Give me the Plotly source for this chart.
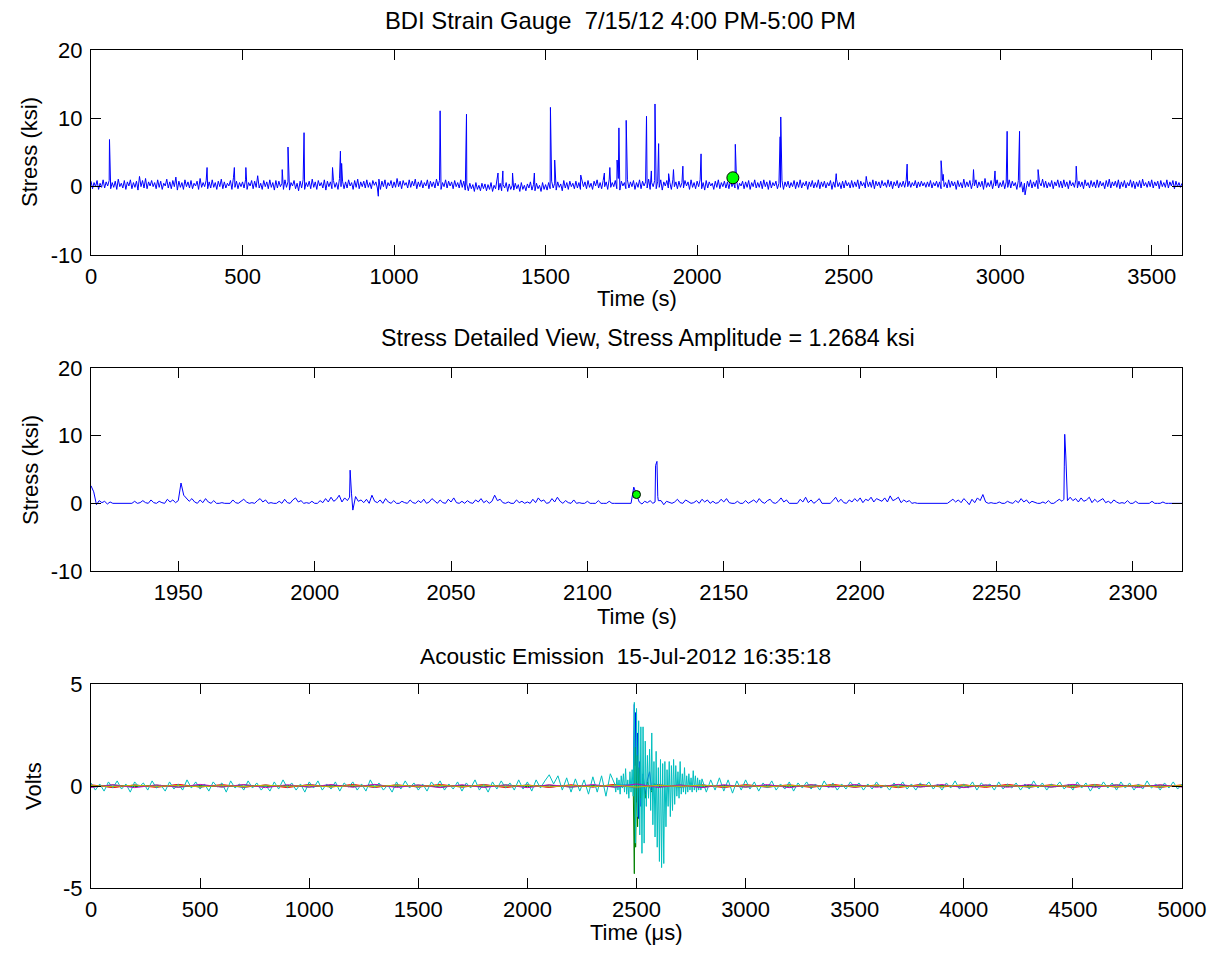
import numpy as np
import plotly.graph_objects as go

# ---------------- Panel 1: BDI strain gauge, 1 hour ----------------
TOP_STEP = 5  # seconds between baseline samples
TOP_BASE = [
    0.8, -0.3, 0.6, 0.0, 0.9, -0.4, 0.5, -0.1, 1.0, -0.2, 0.7, 0.1, 0.9, -0.3, 0.6, -0.1, 0.8, -0.4, 1.1, 0.0,
    0.5, -0.2, 0.9, -0.4, 0.7, 0.1, 1.0, -0.3, 0.6, -0.1, 0.8, -0.5, 1.5, 0.0, 0.9, -0.2, 1.2, -0.3, 0.7, 0.1,
    0.9, 0.0, 0.6, -0.3, 1.0, -0.1, 0.8, -0.4, 0.5, 0.1, 1.1, -0.2, 0.7, -0.3, 0.9, 0.0, 1.4, -0.5, 0.8, -0.1,
    0.6, -0.4, 1.0, 0.0, 0.7, -0.2, 0.9, -0.3, 0.5, 0.1, 0.8, -0.4, 1.2, -0.1, 0.6, 0.0, 0.9, -0.3, 0.7, -0.2,
    1.0, -0.1, 0.6, -0.4, 0.8, 0.0, 1.1, -0.3, 0.7, -0.2, 0.5, 0.1, 0.9, -0.4, 1.3, -0.1, 0.8, -0.3, 0.6, 0.0,
    0.7, -0.2, 1.0, -0.4, 0.6, 0.1, 0.9, -0.3, 0.8, -0.1, 1.6, -0.2, 0.5, -0.4, 0.9, 0.0, 0.7, -0.3, 1.0, -0.1,
    0.6, -0.5, 0.9, -0.2, 0.8, 0.0, 0.5, -0.4, 1.0, -0.1, 0.7, -0.5, 0.6, 0.1, 0.9, -0.3, 0.5, -0.6, 0.8, -0.2,
    1.0, -0.4, 0.6, 0.0, 0.8, -0.3, 1.1, -0.1, 0.7, -0.4, 0.9, 0.1, 0.6, -0.2, 1.0, -0.5, 0.8, 0.0, 0.7, -0.3,
    0.9, -0.1, 0.6, -0.4, 1.2, 0.0, 0.8, -0.3, 0.7, -0.2, 1.0, 0.1, 0.6, -0.4, 0.9, -0.1, 1.1, -0.3, 0.7, 0.0,
    0.8, -0.2, 1.0, -0.1, 0.6, -0.3, 0.9, 0.2, 0.7, -0.2, 1.1, -0.4, 0.8, 0.0, 1.0, -0.3, 0.6, 0.1, 0.9, -0.2,
    0.7, -0.1, 1.2, 0.0, 0.8, -0.3, 0.9, 0.2, 0.6, -0.2, 1.0, -0.1, 0.8, 0.1, 1.1, -0.3, 0.7, 0.0, 0.9, -0.2,
    0.6, 0.1, 1.0, -0.3, 0.8, 0.0, 0.7, -0.2, 1.1, 0.1, 0.9, -0.4, 0.6, 0.0, 1.0, -0.2, 0.8, 0.1, 0.7, -0.3,
    0.9, 0.0, 0.6, -0.2, 1.0, -0.1, 0.8, -0.5, 0.4, -0.6, 0.5, -0.3, 0.3, -0.7, 0.6, -0.4, 0.2, -0.6, 0.5, -0.3,
    0.4, -0.6, 0.3, -0.4, 0.6, -0.7, 0.2, -0.3, 1.7, -0.5, 0.5, -0.6, 0.3, -0.2, 0.6, -0.7, 0.4, -0.4, 0.2, -0.5,
    0.5, -0.3, 0.3, -0.7, 0.6, -0.4, 0.2, -0.6, 0.4, -0.2, 0.7, -0.5, 0.3, -0.6, 0.5, -0.3, 0.2, -0.7, 0.6, -0.4,
    0.3, -0.5, 0.6, -0.3, 0.8, -0.2, 0.5, -0.5, 0.7, -0.1, 0.4, -0.6, 0.9, -0.2, 0.6, -0.4, 0.8, 0.0, 0.5, -0.3,
    0.8, -0.2, 0.6, -0.4, 1.0, 0.0, 0.7, -0.3, 0.9, -0.1, 0.5, -0.4, 0.8, 0.1, 1.0, -0.2, 0.6, -0.3, 0.9, 0.0,
    0.7, -0.4, 1.1, -0.1, 0.6, 0.0, 0.9, -0.3, 1.2, -0.5, 0.8, 0.1, 0.6, -0.3, 1.0, -0.2, 0.7, 0.0, 0.9, -0.4,
    0.6, -0.1, 1.0, -0.3, 0.8, 0.1, 0.7, -0.2, 1.1, -0.4, 0.6, 0.0, 0.9, -0.3, 0.8, -0.1, 1.0, -0.5, 0.7, 0.1,
    0.9, -0.2, 0.6, -0.4, 1.0, 0.0, 0.7, -0.3, 0.8, -0.1, 0.6, -0.2, 0.9, 0.1, 0.7, -0.4, 1.0, -0.1, 0.6, -0.3,
    0.8, 0.0, 1.0, -0.3, 0.6, -0.5, 0.9, -0.2, 0.7, 0.1, 0.5, -0.4, 0.8, -0.1, 1.0, -0.3, 0.6, 0.0, 0.8, -0.2,
    0.7, -0.3, 0.9, 0.0, 0.6, -0.2, 1.0, -0.4, 0.5, 0.1, 0.8, -0.3, 0.7, -0.1, 0.9, -0.4, 0.6, 0.0, 1.0, -0.2,
    0.6, -0.1, 0.8, -0.3, 1.0, 0.0, 0.7, -0.4, 0.9, -0.2, 0.6, 0.1, 0.8, -0.3, 0.5, -0.1, 0.9, -0.4, 0.7, 0.0,
    0.8, -0.2, 0.6, 0.0, 0.9, -0.3, 0.7, -0.1, 1.0, -0.2, 0.6, 0.1, 0.8, -0.4, 0.7, 0.0, 0.9, -0.2, 0.6, -0.1,
    1.0, -0.3, 0.7, 0.0, 0.8, -0.2, 0.6, 0.1, 0.9, -0.4, 0.7, -0.1, 1.1, 0.0, 0.6, -0.3, 0.8, -0.2, 0.9, 0.1,
    0.6, -0.2, 0.9, -0.1, 0.7, 0.0, 1.0, -0.3, 0.8, 0.1, 0.6, -0.2, 0.9, 0.0, 0.7, -0.1, 1.0, -0.3, 0.8, 0.1,
    0.7, -0.2, 0.9, 0.1, 0.6, -0.1, 1.0, 0.0, 0.8, -0.3, 0.7, 0.1, 0.9, -0.2, 0.6, 0.0, 0.8, -0.1, 1.0, 0.0,
    0.8, -0.1, 0.6, 0.1, 0.9, -0.2, 0.7, 0.0, 0.8, 0.1, 0.6, -0.1, 0.7, 0.0, 0.9, -0.2, 0.6, 0.1, 0.8, -0.1,
    0.7, -0.3, 0.9, 0.0, 0.6, -0.2, 1.0, -0.1, 0.8, 0.1, 0.7, -0.4, 0.9, 0.0, 0.6, -0.2, 1.1, -0.1, 0.7, 0.0,
    0.9, -0.3, 0.6, 0.1, 1.0, -0.2, 0.7, 0.0, 0.8, -0.4, 1.2, -0.1, 0.6, 0.0, 0.9, -0.3, 0.7, 0.1, 1.0, -0.2,
    0.6, 0.0, 0.9, -0.3, 0.7, -0.1, 1.0, -0.2, 0.8, 0.1, 0.6, -0.4, 0.9, -0.1, 0.7, -0.8, 0.5, -0.2, 0.8, 0.0,
    1.0, -0.2, 0.7, 0.0, 0.9, -0.3, 0.6, 0.1, 1.1, -0.1, 0.8, -0.2, 0.6, 0.0, 0.9, -0.3, 0.7, 0.1, 1.0, -0.1,
    0.8, -0.2, 1.0, 0.0, 0.7, -0.3, 0.9, 0.1, 0.6, -0.1, 1.1, -0.2, 0.8, 0.0, 0.7, -0.3, 1.0, 0.1, 0.6, -0.2,
    0.9, 0.0, 0.7, -0.2, 1.0, -0.1, 0.8, 0.1, 0.6, -0.3, 0.9, 0.0, 1.1, -0.2, 0.7, 0.1, 0.8, -0.1, 1.0, -0.3,
    0.7, 0.0, 0.9, -0.2, 0.6, 0.1, 1.0, -0.1, 0.8, -0.3, 0.7, 0.0, 0.9, -0.2, 1.1, 0.1, 0.6, -0.1, 0.8, 0.0,
    1.0, -0.2, 0.7, 0.1, 0.8, -0.3, 0.9, 0.0, 0.6, -0.1, 1.0, -0.2, 0.7, 0.1, 0.9, -0.3, 0.8, 0.0, 0.6, -0.1,
    0.5,
]
TOP_SPIKE_T = [61, 383, 473, 511, 631, 650, 703, 797, 823, 827, 948,
               1152, 1239, 1343, 1359, 1391, 1463, 1516, 1530, 1616,
               1694, 1712, 1736, 1742, 1766, 1833, 1849, 1861, 1873,
               1906, 1922, 1953, 2013, 2126, 2274, 2276, 2459, 2558,
               2693, 2805, 2812, 2912, 2983, 3023, 3064, 3082, 3125, 3251]
TOP_SPIKE_V = [6.9, 2.8, 2.8, 2.8, 2.5, 5.8, 7.9, 2.8, 5.2, 3.4, -1.4,
               11.1, 10.6, 2.0, 2.3, 2.0, 2.0, 11.6, 3.9, 1.7,
               2.0, 2.8, 3.9, 8.6, 9.7, 10.3, 2.3, 12.1, 6.3,
               1.9, 2.5, 3.0, 4.8, 6.2, 7.3, 10.2, 1.9, 1.5,
               3.3, 3.8, 1.8, 2.5, 2.3, 8.1, 8.1, -1.2, 2.5, 3.0]
EVENT_T = 2118
EVENT_V = 1.3

# ---------------- Panel 2: detailed view (1 s samples + sub-second peak samples) ----------------
MID_START = 1918
MID_STEP = 1
MID_BASE = [
    2.6, 1.7, -0.2, 0.4, 0.1, 0.3, -0.1, 0.2, 0.0, 0.0, 0.1, 0.0, 0.0, 0.1, 0.0, 0.0, 0.3, 0.0, 0.1, 0.4,
    0.1, 0.0, 0.5, 0.1, 0.0, 0.3, 0.1, 0.0, 0.6, 0.2, 0.5, 0.1, 0.4, 3.0, 1.2, 0.8, 0.3, 0.7, 0.2, 0.0,
    0.5, 0.1, 0.7, 0.2, 0.0, 0.4, 0.0, 0.0, 0.1, 0.0, 0.0, 0.0, 0.5, 0.1, 0.0, 0.3, 0.6, 0.2, 0.0, 0.1,
    0.0, 0.4, 0.7, 0.2, 0.5, 0.0, 0.1, 0.0, 0.0, 0.3, 0.0, 0.6, 0.1, 0.0, 0.5, 0.8, 0.2, 0.4, 0.0, 0.1,
    0.0, 0.3, 0.0, 0.0, 0.4, 0.1, 0.7, 0.2, 0.9, 0.3, 0.6, 1.2, 0.2, 0.8, 0.4, 4.9, -1.0, 1.0, 0.3, 0.5,
    0.1, 0.6, 0.0, 1.2, 0.3, 0.1, 0.5, 0.0, 0.7, 0.2, 0.0, 0.4, 0.0, 0.0, 0.3, 0.1, 0.0, 0.5, 0.1, 0.0,
    0.4, 0.1, 0.6, 0.0, 0.2, 0.7, 0.3, 0.0, 0.5, 0.1, 0.0, 0.6, 0.2, 0.8, 0.1, 0.0, 0.3, 0.0, 0.4, 0.1,
    0.0, 0.5, 0.2, 0.7, 0.1, 0.4, 0.0, 0.3, 1.2, 0.4, 0.6, 0.1, 0.0, 0.2, 0.0, 0.0, 0.5, 0.1, 0.3, 0.0,
    0.2, 0.0, 0.6, 0.1, 0.8, 0.3, 0.5, 0.0, 0.1, 0.7, 0.2, 0.9, 0.3, 0.0, 0.4, 0.1, 0.0, 0.5, 0.0, 0.1,
    0.0, 0.0, 0.3, 0.0, 0.0, 0.0, 0.4, 0.0, 0.0, 0.0, 0.3, 0.0, 0.0, 0.0, 0.0, 0.0, 0.0, 0.0, 0.0, 2.4,
    1.3, 0.2, -0.1, 0.3, 0.1, 0.4, 0.0, 5.6, 0.4, 0.4, -0.2, 0.3, 0.1, 0.0, 0.2, 0.6, 0.1, 0.0, 0.5, 0.2,
    0.0, 0.1, 0.4, 0.0, 0.6, 0.2, 0.5, 0.0, 0.3, 0.0, 0.1, 0.6, 0.2, 0.7, 0.1, 0.0, 0.0, 0.3, 0.0, 0.0,
    0.4, 0.0, 0.2, 0.5, 0.1, 0.7, 0.2, 0.0, 0.4, 0.6, 0.1, 0.0, 0.3, 0.8, 0.2, 0.5, 0.0, 0.0, 0.1, 0.0,
    0.6, 0.2, 0.9, 0.1, 0.5, 0.0, 0.3, 0.7, 0.0, 0.0, 0.1, 0.0, 0.4, 0.9, 0.2, 0.6, 0.1, 0.0, 0.5, 0.2,
    0.7, 0.3, 0.8, 0.1, 0.6, 0.4, 0.9, 0.2, 0.7, 0.5, 0.3, 0.8, 0.2, 1.1, 0.4, 0.6, 0.9, 0.1, 0.5, 0.2,
    0.4, 0.0, 0.1, 0.0, 0.0, 0.0, 0.0, 0.0, 0.0, 0.0, 0.0, 0.0, 0.0, 0.0, 0.0, 0.3, 0.6, 0.2, 0.5, 0.1,
    0.7, 0.3, -0.2, 0.6, 0.1, 0.8, 0.4, 1.3, 0.2, 0.0, 0.1, 0.0, 0.0, 0.2, 0.0, 0.0, 0.3, 0.1, 0.0, 0.4,
    0.1, 0.7, 0.2, 0.5, 0.0, 0.3, 0.1, 0.0, 0.0, 0.2, 0.0, 0.4, 0.0, 0.0, 0.3, 0.6, 0.3, 10.2, 0.4, 0.9,
    0.4, 0.7, 0.2, 0.8, 0.3, 0.5, 0.9, 0.1, 0.6, 0.2, 0.4, 0.7, 0.1, 0.3, 0.0, 0.5, 0.2, 0.0, 0.1, 0.0,
    0.4, 0.0, 0.0, 0.3, 0.0, 0.0, 0.1, 0.0, 0.0, 0.3, 0.0, 0.0, 0.0, 0.2, 0.0, 0.0, 0.0, 0.0, 0.1, 0.0,
    0.0,
]
MID_PEAK_T = [2012.8, 2013.5, 2124.8, 2125.5, 2125.8, 2274.7, 2274.85, 2275.4, 2275.8]
MID_PEAK_V = [0.9, 1.5, 0.2, 6.2, 1.0, 0.6, 5.5, 7.0, 1.3]

# ---------------- Panel 3: acoustic emission ----------------
AE_STEP = 20
AE_CYAN_PRE = [  # t = 0 .. 2380 us
    0.15, -0.2, 0.1, -0.25, 0.2, -0.1, 0.25, -0.15, 0.1, -0.3, 0.2, -0.05,
    0.15, -0.2, 0.25, -0.1, 0.05, -0.25, 0.2, -0.15, 0.1, -0.2, 0.3, -0.1,
    0.2, -0.15, 0.1, -0.25, 0.2, -0.05, 0.15, -0.3, 0.25, -0.1, 0.1, -0.2,
    0.25, -0.1, 0.15, -0.2, 0.05, -0.25, 0.2, -0.15, 0.3, -0.1, 0.15, -0.2,
    0.1, -0.3, 0.2, -0.1, 0.25, -0.2, 0.1, -0.15, 0.2, -0.25, 0.15, -0.05,
    0.2, -0.2, 0.1, -0.25, 0.3, -0.1, 0.15, -0.2, 0.05, -0.3, 0.2, -0.15,
    0.25, -0.1, 0.15, -0.2, 0.1, -0.25, 0.2, -0.05, 0.25, -0.2, 0.1, -0.15,
    0.2, -0.25, 0.15, -0.1, 0.3, -0.2, 0.1, -0.3, 0.2, -0.15, 0.25, -0.1,
    0.15, -0.2, 0.3, -0.15, 0.2, -0.25, 0.3, -0.1, 0.25, 0.55, 0.1, 0.5,
    -0.2, 0.4, -0.3, 0.35, -0.25, 0.3, -0.4, 0.45, -0.3, 0.5, -0.5, 0.6,
]
AE_BURST_START = 2400
AE_BURST_STEP = 5
AE_CYAN_BURST = [  # t = 2400 .. 2795 us
    0.1, -0.3, 0.4, -0.2, 0.3, -0.4, 0.5, -0.1, 0.6, -0.3,
    0.85, -0.4, 0.3, -0.6, 0.7, -0.3, 0.8, -0.5, 4.1, -2.8,
    3.8, -1.5, 3.2, -2.4, 2.9, -3.3, 2.9, -2.8, 2.2, -1.0,
    1.5, -0.6, 1.8, -1.2, 2.6, -1.9, 1.2, -2.5, 1.7, -3.0,
    0.9, -3.7, 1.3, -4.0, 1.1, -3.8, 1.2, -2.0, 0.8, -1.0,
    1.2, -1.5, 1.0, -1.2, 1.3, -0.9, 1.0, -0.5, 0.7, -0.6,
    1.2, -0.4, 0.6, -0.3, 0.9, -0.4, 0.5, -0.3, 0.6, -0.2,
    0.4, -0.3, 0.75, -0.2, 0.5, -0.3, 0.4, -0.2, 0.3, -0.2,
]
AE_POST_START = 2800
AE_CYAN_POST = [  # t = 2800 .. 5000 us
    0.35, -0.3, 0.3, -0.2, 0.4, -0.25, 0.3, -0.35, 0.25, -0.2, 0.3, -0.15,
    0.2, -0.25, 0.15, -0.1, 0.25, -0.2, 0.1, -0.15, 0.2, -0.25, 0.15, -0.1,
    0.2, -0.15, 0.1, -0.2, 0.25, -0.1, 0.15, -0.2, 0.1, -0.15, 0.2, -0.05,
    0.15, -0.2, 0.1, -0.15, 0.2, -0.1, 0.05, -0.2, 0.15, -0.1, 0.2, -0.15,
    0.1, -0.2, 0.15, -0.05, 0.2, -0.15, 0.1, -0.2, 0.15, -0.1, 0.25, -0.15,
    0.1, -0.1, 0.2, -0.2, 0.15, -0.05, 0.1, -0.2, 0.2, -0.15, 0.1, -0.1,
    0.15, -0.2, 0.1, -0.15, 0.25, -0.1, 0.15, -0.2, 0.1, -0.05, 0.2, -0.15,
    0.1, -0.2, 0.2, -0.1, 0.15, -0.25, 0.1, -0.15, 0.2, -0.1, 0.15, -0.2,
    0.2, -0.1, 0.15, -0.2, 0.1, -0.15, 0.25, -0.1, 0.1, -0.2, 0.15, -0.1,
    0.2, -0.15, 0.1,
]
AE_SLOW_STEP = 100  # t = 0 .. 5000 us for the quieter channels
AE_BLUE = [0.03, -0.05, 0.04, -0.02, 0.05, -0.04, 0.02, -0.05, 0.04, -0.03,
           0.05, -0.02, 0.03, -0.05, 0.04, -0.04, 0.02, -0.03, 0.05, -0.02,
           0.04, -0.05, 0.03, -0.04, 0.05, 0.0, 0.04, -0.03, 0.05, -0.04,
           0.02, -0.05, 0.03, -0.02, 0.04, -0.05, 0.03, -0.04, 0.05, -0.02,
           0.04, -0.03, 0.02, -0.05, 0.04, -0.03, 0.05, -0.02, 0.03, -0.04, 0.02]
AE_BLUE_BURST_T = [2485, 2490, 2493, 2496, 2502, 2505, 2510, 2515, 2520, 2530, 2540, 2550, 2560, 2570, 2580]
AE_BLUE_BURST_V = [0.05, 4.0, 1.0, 3.6, -0.8, 2.6, -1.6, 1.2, -1.0, 0.6, -0.4, 0.3, 0.7, -0.2, 0.1]
AE_GREEN = [-0.04, 0.05, -0.03, 0.04, -0.05, 0.02, -0.04, 0.05, -0.02, 0.03,
            -0.05, 0.04, -0.03, 0.05, -0.02, 0.04, -0.05, 0.03, -0.04, 0.05,
            -0.03, 0.04, -0.05, 0.02, -0.04, 0.0, -0.03, 0.05, -0.04, 0.03,
            -0.05, 0.02, -0.04, 0.05, -0.03, 0.04, -0.02, 0.05, -0.04, 0.03,
            -0.05, 0.04, -0.02, 0.03, -0.05, 0.04, -0.03, 0.05, -0.02, 0.04, -0.03]
AE_GREEN_BURST_T = [2485, 2490, 2493, 2496, 2502, 2505, 2510, 2520, 2530, 2540, 2550, 2570, 2580]
AE_GREEN_BURST_V = [0.0, -4.3, 1.9, -3.0, 1.5, -2.0, 0.9, -0.6, 0.4, -0.6, 0.2, -0.3, 0.1]
AE_RED = [0.06, -0.08, 0.05, -0.07, 0.08, -0.05, 0.07, -0.06, 0.05, -0.08,
          0.07, -0.05, 0.08, -0.07, 0.06, -0.05, 0.08, -0.06, 0.07, -0.08,
          0.05, -0.07, 0.06, -0.05, 0.08, -0.1, 0.07, -0.06, 0.05, -0.08,
          0.07, -0.05, 0.06, -0.07, 0.08, -0.06, 0.05, -0.08, 0.07, -0.05,
          0.06, -0.07, 0.08, -0.05, 0.06, -0.08, 0.07, -0.06, 0.05, -0.07, 0.06]
AE_MAGENTA = [-0.07, 0.06, -0.08, 0.05, -0.06, 0.08, -0.05, 0.07, -0.08, 0.06,
              -0.05, 0.07, -0.06, 0.08, -0.07, 0.05, -0.08, 0.06, -0.07, 0.05,
              -0.08, 0.06, -0.05, 0.07, -0.06, 0.1, -0.07, 0.05, -0.08, 0.06,
              -0.05, 0.07, -0.08, 0.06, -0.05, 0.07, -0.06, 0.08, -0.05, 0.07,
              -0.08, 0.05, -0.06, 0.07, -0.05, 0.08, -0.06, 0.05, -0.07, 0.06, -0.05]
AE_OLIVE = [0.02, -0.03, 0.04, -0.02, 0.03, -0.04, 0.02, -0.03, 0.04, -0.02,
            0.03, -0.04, 0.02, -0.03, 0.04, -0.02, 0.03, -0.03, 0.04, -0.02,
            0.03, -0.04, 0.02, -0.03, 0.04, -0.05, 0.03, -0.02, 0.04, -0.03,
            0.02, -0.04, 0.03, -0.02, 0.04, -0.03, 0.02, -0.04, 0.03, -0.02,
            0.04, -0.03, 0.02, -0.04, 0.03, -0.02, 0.04, -0.03, 0.02, -0.04, 0.03]

TOP_XTICKS = [0, 500, 1000, 1500, 2000, 2500, 3000, 3500]
MID_XTICKS = [1950, 2000, 2050, 2100, 2150, 2200, 2250, 2300]
AE_XTICKS = [0, 500, 1000, 1500, 2000, 2500, 3000, 3500, 4000, 4500, 5000]
STRESS_YTICKS = [-10, 0, 10, 20]
VOLT_YTICKS = [-5, 0, 5]


def merge(t1, v1, t2, v2):
    t = np.concatenate([np.asarray(t1, float), np.asarray(t2, float)])
    v = np.concatenate([np.asarray(v1, float), np.asarray(v2, float)])
    o = np.argsort(t, kind="stable")
    return t[o], v[o]


top_t, top_v = merge(np.arange(len(TOP_BASE)) * TOP_STEP, TOP_BASE, TOP_SPIKE_T, TOP_SPIKE_V)
mid_t, mid_v = merge(MID_START + np.arange(len(MID_BASE)) * MID_STEP, MID_BASE, MID_PEAK_T, MID_PEAK_V)

cyan_t = np.concatenate([np.arange(len(AE_CYAN_PRE)) * AE_STEP,
                         AE_BURST_START + np.arange(len(AE_CYAN_BURST)) * AE_BURST_STEP,
                         AE_POST_START + np.arange(len(AE_CYAN_POST)) * AE_STEP])
cyan_v = np.array(AE_CYAN_PRE + AE_CYAN_BURST + AE_CYAN_POST, float)
slow_t = np.arange(len(AE_BLUE)) * AE_SLOW_STEP
blue_t, blue_v = merge(slow_t, AE_BLUE, AE_BLUE_BURST_T, AE_BLUE_BURST_V)
green_t, green_v = merge(slow_t, AE_GREEN, AE_GREEN_BURST_T, AE_GREEN_BURST_V)

# ---------------- layout (pixel positions of the axes boxes) ----------------
W, H = 1223, 963
X0, X1 = 91, 1182
PANELS = [(50, 255), (368, 571), (684, 888)]


def ydom(p):
    return [1 - p[1] / H, 1 - p[0] / H]


FONT = "Liberation Sans, Arial, sans-serif"
FS_TICK = 22
FS_LABEL = 22

fig = go.Figure()
fig.add_trace(go.Scatter(x=top_t, y=top_v, mode="lines", line=dict(color="#0000FF", width=1),
                         xaxis="x", yaxis="y", showlegend=False))
fig.add_trace(go.Scatter(x=[EVENT_T], y=[EVENT_V], mode="markers",
                         marker=dict(color="#00FF00", size=12, line=dict(color="black", width=1)),
                         xaxis="x", yaxis="y", showlegend=False))
fig.add_trace(go.Scatter(x=mid_t, y=mid_v, mode="lines", line=dict(color="#0000FF", width=1),
                         xaxis="x2", yaxis="y2", showlegend=False))
fig.add_trace(go.Scatter(x=[EVENT_T], y=[EVENT_V], mode="markers",
                         marker=dict(color="#00FF00", size=8, line=dict(color="black", width=1)),
                         xaxis="x2", yaxis="y2", showlegend=False))
for t, v, c in [(blue_t, blue_v, "#0000FF"), (green_t, green_v, "#008000"),
                (slow_t, AE_RED, "#FF0000"), (cyan_t, cyan_v, "#00BFBF"),
                (slow_t, AE_MAGENTA, "#BF00BF"), (slow_t, AE_OLIVE, "#BFBF00")]:
    fig.add_trace(go.Scatter(x=t, y=v, mode="lines", line=dict(color=c, width=1),
                             xaxis="x3", yaxis="y3", showlegend=False))

axis_common = dict(showline=True, linecolor="black", linewidth=1, mirror="ticks",
                   ticks="inside", ticklen=10, tickcolor="black", tickwidth=1,
                   showgrid=False, zeroline=False, automargin=False,
                   tickfont=dict(family=FONT, size=FS_TICK, color="black"))


def lab(vals):
    return [str(v) for v in vals]


layout = dict(width=W, height=H,
              margin=dict(l=0, r=0, t=0, b=0, pad=0, autoexpand=False),
              paper_bgcolor="white", plot_bgcolor="white", showlegend=False)
xr = [[0, 3600], [MID_START, MID_START + 400], [0, 5000]]
xt = [TOP_XTICKS, MID_XTICKS, AE_XTICKS]
yr = [[-10, 20], [-10, 20], [-5, 5]]
yt = [STRESS_YTICKS, STRESS_YTICKS, VOLT_YTICKS]
for i in range(3):
    sx = "" if i == 0 else str(i + 1)
    layout["xaxis" + sx] = dict(axis_common, domain=[X0 / W, X1 / W], range=xr[i],
                                tickvals=xt[i], ticktext=lab(xt[i]), anchor="y" + sx,
                                ticklabelstandoff=2)
    layout["yaxis" + sx] = dict(axis_common, domain=ydom(PANELS[i]), range=yr[i],
                                tickvals=yt[i], ticktext=lab(yt[i]), anchor="x" + sx,
                                ticklabelstandoff=3)
fig.update_layout(**layout)


def ann(text, x, y, size, angle=0):
    fig.add_annotation(text=text, x=x / W, y=1 - y / H, xref="paper", yref="paper",
                       showarrow=False, textangle=angle, xanchor="center", yanchor="middle",
                       font=dict(family=FONT, size=size, color="black"))


cx = (X0 + X1) / 2
ann("BDI Strain Gauge  7/15/12 4:00 PM-5:00 PM", 620, 20, 23.8)
ann("Time (s)", cx, 298, FS_LABEL)
ann("Stress Detailed View, Stress Amplitude = 1.2684 ksi", 648, 338, 23.3)
ann("Time (s)", cx, 616, FS_LABEL)
ann("Acoustic Emission  15-Jul-2012 16:35:18", 625, 656, 22.7)
ann("Time (μs)", cx, 932, FS_LABEL)
ann("Stress (ksi)", 30, 152, FS_LABEL, -90)
ann("Stress (ksi)", 30, 470, FS_LABEL, -90)
ann("Volts", 33, 786, FS_LABEL, -90)

POST = """
document.documentElement.style.margin = '0';
document.body.style.margin = '0';
document.body.style.overflow = 'hidden';
"""

fig.write_html("out.html", config={"displayModeBar": False}, post_script=POST)
